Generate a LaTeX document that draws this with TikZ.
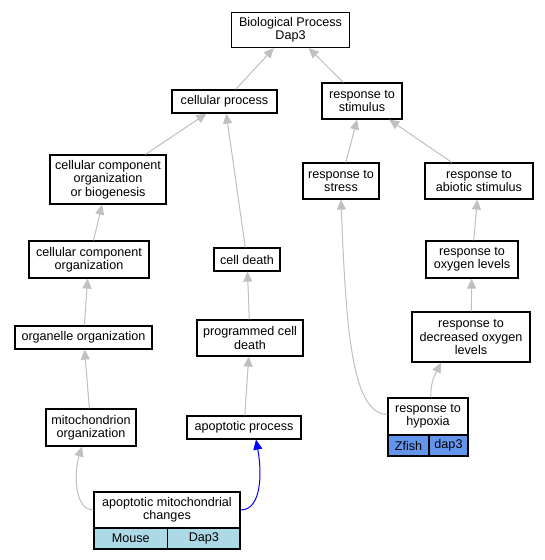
\documentclass[tikz,border=0pt]{standalone}
\usepackage{fontspec}
\setmainfont{Liberation Sans}
\usetikzlibrary{arrows.meta,calc}
\definecolor{edgegray}{HTML}{C0C0C0}
\definecolor{zfblue}{HTML}{6495ED}
\definecolor{msblue}{HTML}{ADD8E6}
\definecolor{edgeblue}{HTML}{0000FF}
\begin{document}
\begin{tikzpicture}[x=1pt,y=-1pt,
  box/.style={draw=black,line width=1.2pt,fill=white,inner sep=0pt,align=center,
    font=\fontsize{12.6}{13.4}\selectfont},
  cell/.style={box,minimum height=21pt},
  edge/.style={draw=edgegray,line width=1pt,-{Triangle[length=10pt,width=9pt]}},
  bedge/.style={draw=edgeblue,line width=1pt,-{Triangle[length=10pt,width=9pt]}},
]
\fill[white] (0,0) rectangle (544,560);
\useasboundingbox (0,0) rectangle (544,560);

\node[box,minimum width=118pt,minimum height=35pt] (bp) at (290.5,30) {Biological Process\\Dap3};
\node[box,minimum width=105pt,minimum height=23pt] (cp) at (224.5,101.5) {cellular process};
\node[box,minimum width=80pt,minimum height=36pt] (rs) at (362,101) {response to\\stimulus};
\node[box,minimum width=116pt,minimum height=49pt] (ccob) at (108,179.5) {cellular component\\organization\\or biogenesis};
\node[box,minimum width=76pt,minimum height=36pt] (rstress) at (341,181) {response to\\stress};
\node[box,minimum width=108pt,minimum height=36pt] (rabio) at (479,181) {response to\\abiotic stimulus};
\node[box,minimum width=120pt,minimum height=37pt] (cco) at (89,259.5) {cellular component\\organization};
\node[box,minimum width=66pt,minimum height=23pt] (cd) at (247,259.5) {cell death};
\node[box,minimum width=92pt,minimum height=37pt] (rol) at (472,259.5) {response to\\oxygen levels};
\node[box,minimum width=137pt,minimum height=23pt] (oo) at (83.5,337.5) {organelle organization};
\node[box,minimum width=106pt,minimum height=36pt] (pcd) at (250,338) {programmed cell\\death};
\node[box,minimum width=118pt,minimum height=50pt] (rdol) at (471,337) {response to\\decreased oxygen\\levels};
\node[box,minimum width=90pt,minimum height=37pt] (mo) at (91,427.5) {mitochondrion\\organization};
\node[box,minimum width=114pt,minimum height=23pt] (ap) at (244,427.5) {apoptotic process};

\node[box,minimum width=80pt,minimum height=37pt] (hyp) at (428,416.5) {response to\\hypoxia};
\node[cell,fill=zfblue,minimum width=41pt] (hypa) at (408.5,445.5) {Zfish};
\node[cell,fill=zfblue,minimum width=39pt] (hypb) at (448.5,445.5) {dap3};

\node[box,minimum width=146pt,minimum height=36pt] (amc) at (167,510) {apoptotic mitochondrial\\changes};
\node[cell,fill=msblue,minimum width=73.7pt] (amca) at (130.85,538.5) {Mouse};
\node[cell,fill=msblue,minimum width=72.3pt] (amcb) at (203.85,538.5) {Dap3};

\draw[edge] (cp) -- (bp);
\draw[edge] (rs) -- (bp);
\draw[edge] (ccob) -- (cp);
\draw[edge] (cd) -- (cp);
\draw[edge] (rstress) -- (rs);
\draw[edge] (rabio) -- (rs);
\draw[edge] (cco) -- (ccob);
\draw[edge] (oo) -- (cco);
\draw[edge] (pcd) -- (cd);
\draw[edge] (rol) -- (rabio);
\draw[edge] (rdol) -- (rol);
\draw[edge] (mo) -- (oo);
\draw[edge] (ap) -- (pcd);
\draw[edge] ($(hyp.north)+(3,0)$) .. controls ($(hyp.north)+(2,-14)$) and ($(rdol.south)+(-36,12)$) .. ($(rdol.south)+(-30,0)$);
\draw[edge] ($(hyp.west)+(0,-2)$) .. controls (352,414) and (346,330) .. (rstress.south);
\draw[edge] (amc.west) .. controls (74,510) and (74,472) .. ($(mo.south)+(-9,0)$);
\draw[bedge] (amc.east) .. controls (262,510) and (262,472) .. ($(ap.south)+(12,0)$);
\end{tikzpicture}
\end{document}
